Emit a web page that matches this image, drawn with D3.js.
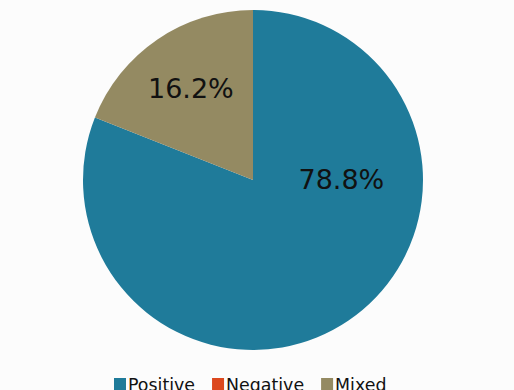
<!DOCTYPE html>
<html>
<head>
<meta charset="utf-8">
<script src="https://cdn.jsdelivr.net/npm/d3@7/dist/d3.min.js"></script>
<style>
  body { margin: 0; background: #fcfcfc; }
  svg { display: block; }
</style>
</head>
<body>
<div class="chart"></div>
<script>
var svgWidth = 514;
var svgHeight = 390;

// slice data, as drawn
var categories = ["Positive", "Negative", "Mixed"];
var shares = [81.0, 0, 19.0];
var labels = ["78.8%", "", "16.2%"];
var colors = ["#1f7b9a", "#dc481e", "#948a62"];

var cx = 253;
var cy = 180;
var radius = 170;

var svg = d3.select(".chart")
  .append("svg")
  .attr("width", svgWidth)
  .attr("height", svgHeight)
  .style("background", "#fcfcfc");

var pieData = categories.map(function(c, i) {
  return { name: c, value: shares[i], label: labels[i], color: colors[i] };
});

var pie = d3.pie()
  .sort(null)
  .value(function(d) { return d.value; });

var arc = d3.arc()
  .innerRadius(0)
  .outerRadius(radius);

var slices = pie(pieData);

var pieGroup = svg.append("g")
  .attr("transform", `translate(${cx}, ${cy})`);

pieGroup.selectAll("path")
  .data(slices)
  .enter()
  .append("path")
  .attr("d", arc)
  .attr("fill", function(d) { return d.data.color; });

// labels: small slices at centroid, the big one pushed out to the right side
function labelPos(d) {
  var span = d.endAngle - d.startAngle;
  var a, r;
  if (span > Math.PI) {
    a = Math.PI / 2;
    r = radius * 0.52;
  } else {
    a = (d.startAngle + d.endAngle) / 2;
    r = radius * 0.65;
  }
  return [Math.sin(a) * r, -Math.cos(a) * r];
}

pieGroup.selectAll("text.pct")
  .data(slices.filter(function(d) { return d.data.label !== ""; }))
  .enter()
  .append("text")
  .attr("class", "pct")
  .text(function(d) { return d.data.label; })
  .attr("x", function(d) { return labelPos(d)[0]; })
  .attr("y", function(d) { return labelPos(d)[1]; })
  .attr("dy", "0.35em")
  .attr("text-anchor", "middle")
  .attr("font-family", "DejaVu Sans, Verdana, sans-serif")
  .attr("font-size", 27)
  .attr("fill", "#111");

// legend along the bottom (cut by the frame edge, as in the original)
var legend = svg.append("g")
  .attr("transform", "translate(114, 378)");

var lx = 0;
categories.forEach(function(c, i) {
  var item = legend.append("g").attr("transform", `translate(${lx}, 0)`);
  item.append("rect")
    .attr("width", 12)
    .attr("height", 12)
    .attr("fill", colors[i]);
  var t = item.append("text")
    .text(c)
    .attr("x", 14)
    .attr("y", 12.8)
    .attr("font-family", "DejaVu Sans, Verdana, sans-serif")
    .attr("font-size", 17.4)
    .attr("fill", "#111");
  lx += 14 + t.node().getComputedTextLength() + 17;
});
</script>
</body>
</html>
